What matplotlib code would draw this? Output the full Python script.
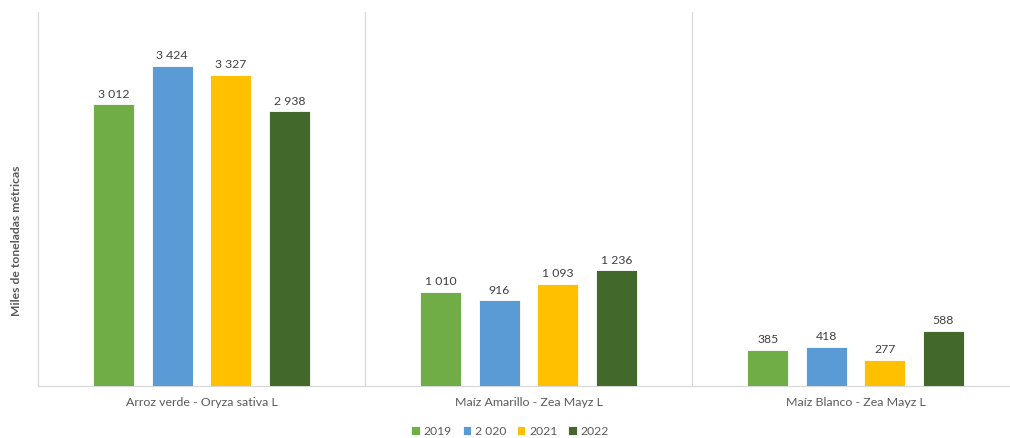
import matplotlib
matplotlib.use("Agg")
import matplotlib.pyplot as plt
import numpy as np

categories = ["Arroz verde - Oryza sativa L",
              "Maíz Amarillo - Zea Mayz L",
              "Maíz Blanco - Zea Mayz L"]
series_names = ["2019", "2 020", "2021", "2022"]
v2019 = [3012, 1010, 385]
v2020 = [3424, 916, 418]
v2021 = [3327, 1093, 277]
v2022 = [2938, 1236, 588]
colors = ["#70AD47", "#5B9BD5", "#FFC000", "#43682B"]


def fmt(v):
    # thousands separated by a space, as in the source
    return f"{v:,}".replace(",", " ")


plt.rcParams["font.family"] = ["Lato", "DejaVu Sans"]
txt = "#595959"

fig = plt.figure(figsize=(10.1, 4.39), dpi=100)
ax = fig.add_axes([38 / 1010, 52 / 439, 981 / 1010, 374 / 439])

x = np.arange(len(categories))
step, width = 0.179, 0.125
for i, (name, vals, c) in enumerate(zip(series_names, [v2019, v2020, v2021, v2022], colors)):
    pos = x + (i - 1.5) * step
    bars = ax.bar(pos, vals, width, color=c, edgecolor="white", linewidth=0.6, label=name, zorder=3)
    for b, v in zip(bars, vals):
        ax.text(b.get_x() + b.get_width() / 2, v + 60, fmt(v), ha="center", va="bottom",
                fontsize=8.8, color="#404040")

ax.set_xlim(-0.5, 2.5)
ax.set_ylim(0, 4000)
ax.set_yticks([])
ax.set_xticks(x)
ax.set_xticklabels(categories, fontsize=8.9, color=txt)
ax.tick_params(axis="x", length=0, pad=7)
for sep in (0.5, 1.5):
    ax.axvline(sep, color="#D9D9D9", linewidth=0.9, zorder=1)
for s in ("top", "right"):
    ax.spines[s].set_visible(False)
ax.spines["left"].set_color("#D9D9D9")
ax.spines["bottom"].set_color("#D9D9D9")
ax.spines["left"].set_linewidth(0.9)
ax.spines["bottom"].set_linewidth(0.9)

fig.text(17 / 1010, 1 - 241 / 439, "Miles de toneladas métricas", rotation=90,
         ha="center", va="center", fontsize=8.7, fontweight="bold", color=txt)

fig.legend(loc="center", bbox_to_anchor=(510 / 1010, 1 - 432 / 439), ncol=4, frameon=False,
           fontsize=8.7, handlelength=0.7, handleheight=0.7, handletextpad=0.3,
           columnspacing=0.9, labelcolor=txt)

fig.savefig("out.png", dpi=100)
